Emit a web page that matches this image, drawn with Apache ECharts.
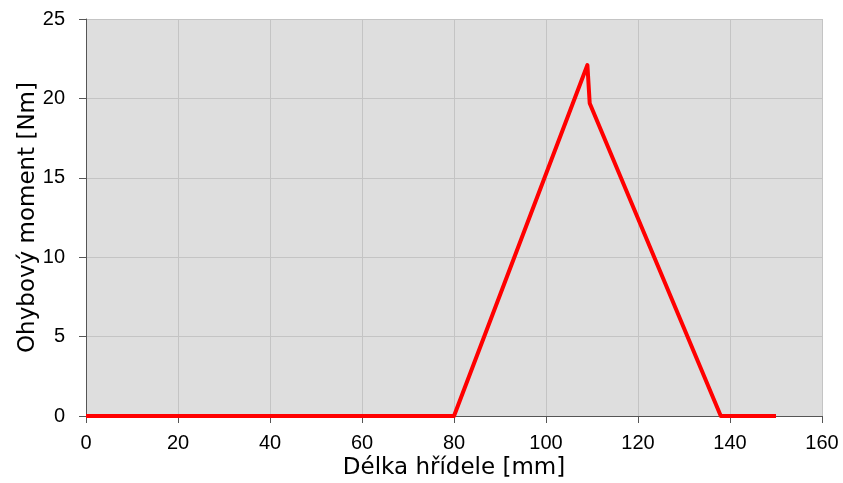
<!DOCTYPE html>
<html><head><meta charset="utf-8">
<script src="https://cdn.jsdelivr.net/npm/echarts@6/dist/echarts.min.js"></script>
<style>html,body{margin:0;padding:0;background:#fff}#c{width:843px;height:483px}</style>
</head><body><div id="c"></div>
<script>
var xValues = [0, 80, 109, 109.5, 138, 150];
var momentValues = [0, 0, 22.1, 19.7, 0, 0];
var xTicks = [0, 20, 40, 60, 80, 100, 120, 140, 160];
var yTicks = [0, 5, 10, 15, 20, 25];
var xTitle = 'Délka hřídele [mm]';
var yTitle = 'Ohybový moment [Nm]';

var chart = echarts.init(document.getElementById('c'), null, {renderer: 'canvas'});
var font = 'Liberation Sans, Arial, sans-serif';
var titleFont = 'DejaVu Sans, sans-serif';
chart.setOption({
  animation: false,
  grid: {left: 86, right: 21, top: 19, bottom: 67, show: true, backgroundColor: '#dedede', borderWidth: 0, containLabel: false, outerBoundsMode: 'none'},
  xAxis: {
    type: 'value', min: 0, max: 160, interval: 20,
    name: xTitle, nameLocation: 'middle', nameGap: 41, nameMoveOverlap: false,
    nameTextStyle: {fontFamily: titleFont, fontSize: 23, color: '#000'},
    axisLine: {show: true, lineStyle: {color: '#555', width: 1}},
    axisTick: {show: true, length: 7, lineStyle: {color: '#555'}},
    axisLabel: {fontFamily: font, fontSize: 20, color: '#000', margin: 17},
    splitLine: {show: true, lineStyle: {color: '#c4c4c4', width: 1}}
  },
  yAxis: {
    type: 'value', min: 0, max: 25, interval: 5,
    name: yTitle, nameLocation: 'middle', nameGap: 46, nameRotate: 90, nameMoveOverlap: false,
    nameTextStyle: {fontFamily: titleFont, fontSize: 23, color: '#000'},
    axisLine: {show: true, lineStyle: {color: '#555', width: 1}},
    axisTick: {show: true, length: 7, lineStyle: {color: '#555'}},
    axisLabel: {fontFamily: font, fontSize: 20, color: '#000', margin: 21},
    splitLine: {show: true, lineStyle: {color: '#c4c4c4', width: 1}}
  },
  series: [{
    type: 'line',
    data: xValues.map(function (x, i) { return [x, momentValues[i]]; }),
    showSymbol: false, symbol: 'none',
    lineStyle: {color: '#ff0000', width: 4, join: 'round'},
    itemStyle: {color: '#ff0000'}
  }]
});
</script></body></html>
